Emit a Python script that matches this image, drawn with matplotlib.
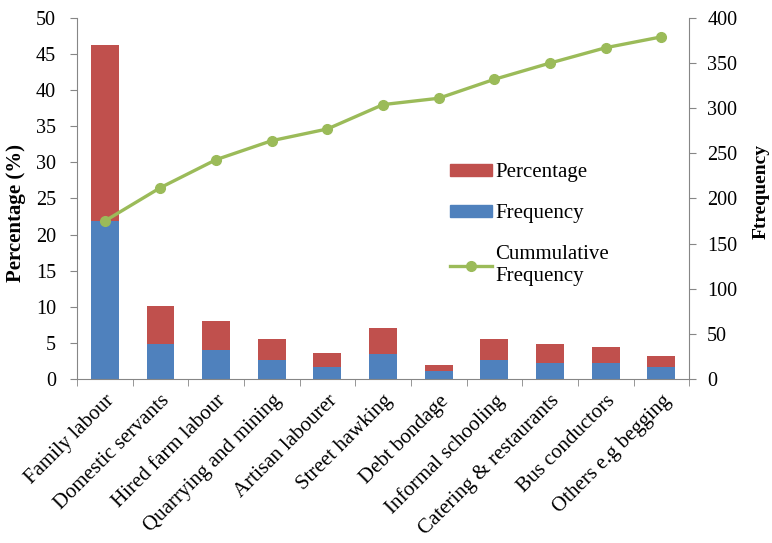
import numpy as np
import matplotlib
matplotlib.use("Agg")
import matplotlib.pyplot as plt
from matplotlib.lines import Line2D
from matplotlib.patches import Patch

# data
categories = ["Family labour", "Domestic servants", "Hired farm labour",
              "Quarrying and mining", "Artisan labourer", "Street hawking",
              "Debt bondage", "Informal schooling", "Catering & restaurants",
              "Bus conductors", "Others e.g begging"]
frequency_bar = [21.9, 4.8, 4.0, 2.6, 1.6, 3.4, 1.1, 2.6, 2.2, 2.2, 1.6]
percentage_bar = [24.3, 5.3, 4.1, 2.9, 2.0, 3.7, 0.9, 2.9, 2.6, 2.2, 1.6]
cumulative_freq = [175, 212, 243, 264, 277, 304, 311, 332, 350, 367, 379]

COLORS = {
    "freq": "#4F81BD",
    "pct": "#C0504D",
    "cum": "#9BBB59",
    "axis": "#868686",
}

plt.rcParams.update({
    "font.family": "Liberation Serif",
    "font.size": 14.5,
})

fig = plt.figure(figsize=(7.72, 5.43), dpi=100)
ax = fig.add_axes([0.0997, 0.302, 0.793, 0.665])
ax2 = ax.twinx()

x = np.arange(len(categories))
width = 0.5
ax.bar(x, frequency_bar, width, color=COLORS["freq"], zorder=2)
ax.bar(x, percentage_bar, width, bottom=frequency_bar, color=COLORS["pct"], zorder=2)

ax2.plot(x, cumulative_freq, color=COLORS["cum"], linewidth=2.4,
         marker="o", markersize=7, zorder=3)

ax.set_xlim(-0.5, len(categories) - 0.5)
ax.set_ylim(0, 50)
ax.set_yticks(np.arange(0, 51, 5))
ax2.set_ylim(0, 400)
ax2.set_yticks(np.arange(0, 401, 50))

# category labels, tick marks between categories
ax.set_xticks(x)
ax.set_xticklabels(categories, rotation=45, ha="right", rotation_mode="anchor",
                   fontsize=15)
ax.tick_params(axis="x", length=0, pad=9)
ax.set_xticks(np.arange(-0.5, len(categories), 1), minor=True)
ax.tick_params(axis="x", which="minor", length=5, color=COLORS["axis"], direction="out")

for a in (ax, ax2):
    a.spines["top"].set_visible(False)
    for s in ("left", "right", "bottom"):
        a.spines[s].set_color(COLORS["axis"])
ax.spines["right"].set_visible(False)
ax2.spines["left"].set_visible(False)
ax2.spines["bottom"].set_visible(False)
ax.tick_params(axis="y", length=5, color=COLORS["axis"], direction="out", pad=10)
ax2.tick_params(axis="y", length=5, color=COLORS["axis"], direction="out", pad=8)

ax.set_ylabel("Percentage (%)", fontweight="bold", fontsize=15)
ax.yaxis.set_label_coords(-0.083, 0.46)
ax2.set_ylabel("Ftrequency", fontweight="bold", fontsize=14)
ax2.yaxis.set_label_coords(1.103, 0.52)

handles = [
    Patch(color=COLORS["pct"]),
    Patch(color=COLORS["freq"]),
    Line2D([0], [0], color=COLORS["cum"], linewidth=2.4, marker="o", markersize=7),
]
labels = ["Percentage", "Frequency", "Cummulative\nFrequency"]
fig.legend(handles, labels, loc="upper left", bbox_to_anchor=(0.559, 0.734),
           frameon=False, handlelength=2.0, handleheight=0.5, handletextpad=0.15,
           labelspacing=1.05, fontsize=15)

fig.savefig("out.png", dpi=100)
plt.close()
